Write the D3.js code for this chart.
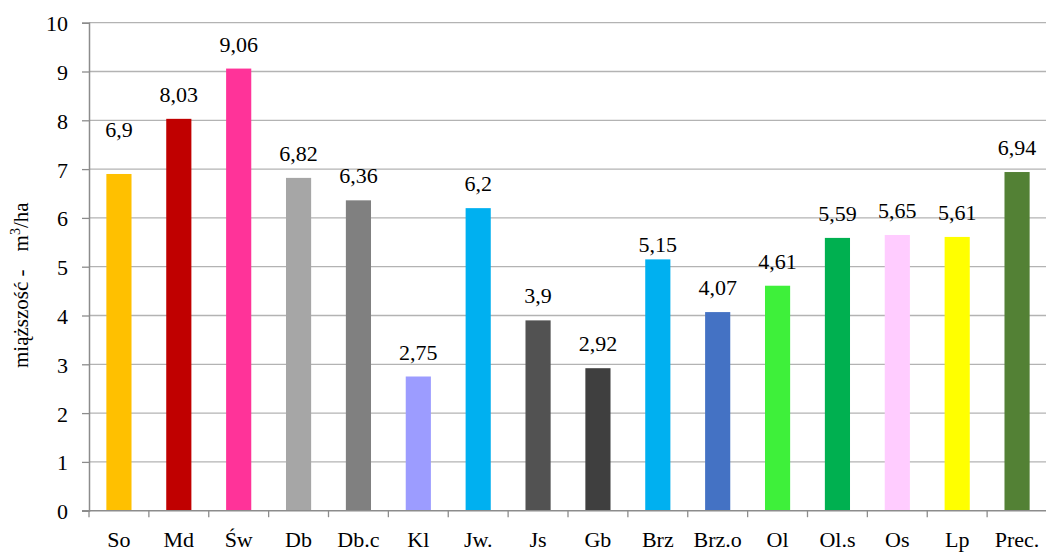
<!DOCTYPE html>
<html>
<head>
<meta charset="utf-8">
<script src="https://cdn.jsdelivr.net/npm/d3@7"></script>
<style>
  html, body { margin: 0; padding: 0; background: #fff; }
  svg { display: block; }
  svg text { font-family: "Liberation Serif", "Times New Roman", serif !important; fill: #000; }
</style>
</head>
<body>
<svg id="chart" width="1046" height="552"></svg>
<script>
// Species codes and mean volume (m³/ha)
const categories = ["So", "Md", "Św", "Db", "Db.c", "Kl", "Jw.", "Js", "Gb", "Brz", "Brz.o", "Ol", "Ol.s", "Os", "Lp", "Prec."];
const values = [6.9, 8.03, 9.06, 6.82, 6.36, 2.75, 6.2, 3.9, 2.92, 5.15, 4.07, 4.61, 5.59, 5.65, 5.61, 6.94];
const valueLabels = ["6,9", "8,03", "9,06", "6,82", "6,36", "2,75", "6,2", "3,9", "2,92", "5,15", "4,07", "4,61", "5,59", "5,65", "5,61", "6,94"];
const yTicks = [0, 1, 2, 3, 4, 5, 6, 7, 8, 9, 10];
const barColors = ["#FFC000", "#C00000", "#FF3399", "#A6A6A6", "#808080", "#9C9CFF", "#00B0F0", "#525252", "#3F3F3F", "#00B0F0", "#4472C4", "#3EF03A", "#00B050", "#FFCCFF", "#FFFF00", "#538135"];

// A couple of value labels sit off their default spot
const labelNudge = { "So": -20, "Brz": 10 };

const FONT = "'Liberation Serif', 'Times New Roman', serif";
const svg = d3.select("#chart");
const mLeft = 89, mRight = 1047, mTop = 22.7, mBottom = 510.7;

const x = d3.scaleBand().domain(categories).range([mLeft, mRight])
  .paddingInner(0.58).paddingOuter(0.29);
const y = d3.scaleLinear().domain([0, 10]).range([mBottom, mTop]);

// horizontal gridlines
svg.append("g").selectAll("line").data(yTicks.filter(d => d > 0)).join("line")
  .attr("x1", mLeft).attr("x2", mRight)
  .attr("y1", d => y(d)).attr("y2", d => y(d))
  .attr("stroke", "#B3B3B3").attr("stroke-width", 1.3);

// y axis
const yAxis = svg.append("g").attr("transform", `translate(${mLeft},0)`)
  .call(d3.axisLeft(y).tickValues(yTicks).tickSize(7).tickPadding(14).tickFormat(d3.format("d")))
  .attr("font-family", FONT).attr("font-size", 22);
yAxis.select(".domain").attr("stroke", "#8C8C8C").attr("stroke-width", 1.5);
yAxis.selectAll(".tick line").attr("stroke", "#8C8C8C").attr("stroke-width", 1.3);
yAxis.selectAll(".tick text").attr("fill", "#000").attr("dy", "0.36em");

// bars
svg.append("g").selectAll("rect").data(categories).join("rect")
  .attr("x", d => x(d))
  .attr("width", x.bandwidth())
  .attr("y", (d, i) => y(values[i]))
  .attr("height", (d, i) => y(0) - y(values[i]))
  .attr("fill", (d, i) => barColors[i]);

// x axis with ticks at band boundaries
const step = x.step();
const boundaries = d3.range(categories.length + 1).map(i => mLeft + i * step);
const xg = svg.append("g").attr("font-family", FONT).attr("font-size", 22);
xg.append("line").attr("x1", mLeft - 7).attr("x2", mRight).attr("y1", mBottom).attr("y2", mBottom)
  .attr("stroke", "#8C8C8C").attr("stroke-width", 1.5);
xg.selectAll("line.tk").data(boundaries).join("line").attr("class", "tk")
  .attr("x1", d => d).attr("x2", d => d).attr("y1", mBottom).attr("y2", mBottom + 6.5)
  .attr("stroke", "#8C8C8C").attr("stroke-width", 1.3);
xg.selectAll("text").data(categories).join("text")
  .attr("x", d => x(d) + x.bandwidth() / 2)
  .attr("y", 546.5)
  .attr("text-anchor", "middle")
  .text(d => d);

// value labels
svg.append("g").attr("font-family", FONT).attr("font-size", 22)
  .selectAll("text").data(categories).join("text")
  .attr("x", d => x(d) + x.bandwidth() / 2)
  .attr("y", (d, i) => y(values[i]) - 17 + (labelNudge[d] || 0))
  .attr("text-anchor", "middle")
  .text((d, i) => valueLabels[i]);

// y axis title with superscript unit
const title = svg.append("text")
  .attr("transform", "translate(28,368) rotate(-90)")
  .attr("text-anchor", "start")
  .attr("font-family", FONT)
  .attr("font-size", 21);
title.append("tspan").text("miąższość -");
title.append("tspan").attr("dx", 18).text("m");
title.append("tspan").attr("font-size", 14).attr("dy", -8).text("3");
title.append("tspan").attr("dy", 8).text("/ha");
</script>
</body>
</html>
